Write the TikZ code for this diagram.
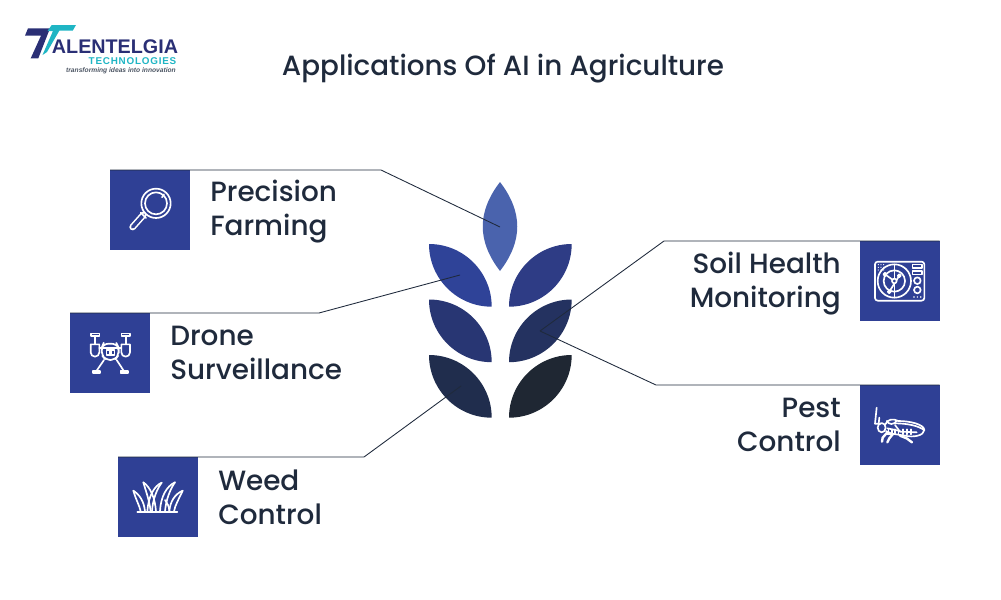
\documentclass[tikz,border=0pt]{standalone}
\usepackage{fontspec}
\setmainfont{Poppins Medium}
\newfontfamily\logofont{Liberation Sans}
\definecolor{ink}{HTML}{1F2A3C}
\definecolor{boxblue}{HTML}{2F4095}
\definecolor{leafA}{HTML}{4A63AD}
\definecolor{leafB}{HTML}{2F4398}
\definecolor{leafC}{HTML}{2E3C85}
\definecolor{leafD}{HTML}{283673}
\definecolor{leafE}{HTML}{243260}
\definecolor{leafF}{HTML}{202D4D}
\definecolor{leafG}{HTML}{1F2733}
\definecolor{logonavy}{HTML}{2A2F75}
\definecolor{logocyan}{HTML}{1FB5C4}
\tikzset{
  iconbox/.style={fill=boxblue,draw=none,minimum width=60pt,minimum height=60pt,inner sep=0pt,outer sep=0pt,anchor=north west},
  label/.style={font=\fontsize{20.9}{25.5}\selectfont,text=ink,inner sep=0pt,anchor=west,align=left},
  labelr/.style={font=\fontsize{20.9}{25.5}\selectfont,text=ink,inner sep=0pt,anchor=east,align=right},
  conn/.style={draw=ink,line width=0.65pt},
  ic/.style={draw=white,line width=1.25pt,line cap=round,line join=round},
  icf/.style={x=0.25pt,y=-0.25pt},
}
\newcommand{\leftleaf}[3]{\fill[#3] (#1,#2) .. controls (#1+34.6,#2) and (#1+62.7,#2+28.1) .. (#1+62.7,#2+62.7) .. controls (#1+28.1,#2+62.7) and (#1,#2+34.6) .. (#1,#2) -- cycle;}
\newcommand{\rightleaf}[3]{\fill[#3] (#1,#2) .. controls (#1-34.6,#2) and (#1-62.7,#2+28.1) .. (#1-62.7,#2+62.7) .. controls (#1-28.1,#2+62.7) and (#1,#2+34.6) .. (#1,#2) -- cycle;}
\begin{document}
\begin{tikzpicture}[x=0.75pt,y=-0.75pt]
\useasboundingbox (0,0) rectangle (1001,600);
% leaves
\fill[leafA] (500,182) .. controls (477,212) and (477,241) .. (500,271) .. controls (523,241) and (523,212) .. (500,182) -- cycle;
\leftleaf{429}{244}{leafB}
\rightleaf{571.7}{244}{leafC}
\leftleaf{429}{299.5}{leafD}
\rightleaf{571.7}{299.5}{leafE}
\leftleaf{429}{355}{leafF}
\rightleaf{571.7}{355}{leafG}
% boxes
\node[iconbox] (precision) at (110,170) {};
\node[iconbox] (drone) at (70,313) {};
\node[iconbox] (weed) at (118,457) {};
\node[iconbox] (soil) at (859.5,241) {};
\node[iconbox] (pest) at (859.5,385) {};
% labels
\node[label] (tprecision) at (210,211.5) {Precision\\Farming};
\node[label] (tdrone) at (170,353) {Drone\\Surveillance};
\node[label] (tweed) at (218,497) {Weed\\Control};
\node[labelr] (tsoil) at (841,283.5) {Soil Health\\Monitoring};
\node[labelr] (tpest) at (841,425) {Pest\\Control};
\node[font=\fontsize{20.85}{24}\selectfont,text=ink,inner sep=0pt] (title) at (503,68.5) {Applications Of AI in Agriculture};
% connector points
\coordinate (b1) at (381,170); \coordinate (e1) at (500,227);
\coordinate (b2) at (319,313); \coordinate (e2) at (460,275);
\coordinate (b3) at (364,457); \coordinate (e3) at (461,386);
\coordinate (b4) at (664,241); \coordinate (e4) at (540,331);
\coordinate (b5) at (656,385);
\draw[conn] (precision.north west) -- (b1) -- (e1);
\draw[conn] (drone.north west) -- (b2) -- (e2);
\draw[conn] (weed.north west) -- (b3) -- (e3);
\draw[conn] (soil.north east) -- (b4) -- (e4);
\draw[conn] (pest.north east) -- (b5) -- (e4);
% magnifier
\begin{scope}[shift={(100,160)},icf]
\draw[ic] (168,130) circle (44);
\draw[ic] (168,130) circle (33);
\draw[ic] (186,112) arc (45:20:25);
\draw[ic,line width=5pt] (130,165) -- (98,201);
\draw[boxblue,line width=2.6pt,line cap=round] (130,165) -- (98,201);
\draw[ic] (122,158) -- (138,174);
\end{scope}
% drone
\begin{scope}[shift={(60,305)},icf]
\draw[ic] (92,85) rectangle (118,92);
\draw[ic] (184,85) rectangle (210,92);
\draw[ic] (105,92) -- (105,118); \draw[ic] (197,92) -- (197,118);
\draw[ic] (92,118) -- (118,118) -- (118,142) arc (0:180:13) -- cycle;
\draw[ic] (184,118) -- (210,118) -- (210,142) arc (0:180:13) -- cycle;
\draw[ic] (118,128) -- (184,128);
\draw[ic,rounded corners=4pt] (125,128) -- (130,116) -- (170,116) -- (176,128) -- (176,150) -- (165,165) -- (137,165) -- (125,150) -- cycle;
\draw[ic] (139,135) rectangle (163,150);
\fill[white] (147,137) rectangle (155,148);
\draw[ic] (132,165) -- (110,197); \draw[ic] (170,165) -- (191,197);
\draw[ic] (98,197) rectangle (120,203);
\draw[ic] (181,197) rectangle (203,203);
\end{scope}
% weed
\begin{scope}[shift={(110,450)},icf]
\draw[ic] (82,185) -- (202,185);
\draw[ic] (70,122) .. controls (90,135) and (102,155) .. (105,184);
\draw[ic] (70,122) .. controls (78,150) and (88,165) .. (92,184);
\draw[ic] (100,97) .. controls (122,112) and (135,145) .. (138,184);
\draw[ic] (100,97) .. controls (108,125) and (118,150) .. (122,184);
\draw[ic] (155,98) .. controls (132,108) and (115,140) .. (112,184);
\draw[ic] (155,98) .. controls (140,118) and (128,150) .. (126,184);
\draw[ic] (195,97) .. controls (170,108) and (152,140) .. (150,184);
\draw[ic] (195,97) .. controls (180,118) and (168,150) .. (165,184);
\draw[ic] (218,122) .. controls (195,132) and (180,155) .. (178,184);
\draw[ic] (218,122) .. controls (208,145) and (195,165) .. (192,184);
\draw[ic] (165,150) .. controls (172,160) and (178,170) .. (178,184);
\end{scope}
% radar
\begin{scope}[shift={(850,235)},icf]
\draw[ic,rounded corners=2pt] (75,80) rectangle (223,197);
\draw[ic] (133,138) circle (50);
\draw[ic] (133,138) circle (32);
\draw[ic] (133,88) -- (133,188);
\draw[ic] (118,170) -- (148,122);
\draw[ic] (105,118) -- (133,138);
\draw[ic,fill=boxblue] (133,138) circle (7);
\draw[ic,fill=boxblue] (105,118) circle (4.5);
\draw[ic,fill=boxblue] (148,122) circle (4.5);
\draw[ic,fill=boxblue] (118,170) circle (4.5);
\draw[ic] (187,88) rectangle (215,98);
\draw[ic] (187,108) rectangle (215,118);
\draw[ic] (202,137) circle (10);
\draw[ic] (202,165) circle (10);
\foreach \x in {192,202,212} \fill[white] (\x,186) circle (2.5);
\foreach \x in {85,93,101} \foreach \y in {89,97,105} \fill[white] (\x,\y) circle (1.8);
\end{scope}
% bug
\begin{scope}[shift={(850,375)},icf]
\draw[ic] (80,98) -- (75,146) -- (92,146);
\draw[ic] (88,128) -- (86,146);
\draw[ic] (95,158) ellipse (12 and 14);
\draw[ic] (106,148) .. controls (112,132) and (130,130) .. (145,138) .. controls (180,138) and (222,148) .. (223,165) .. controls (222,182) and (190,188) .. (165,182) -- (125,176) -- (108,168);
\draw[ic] (110,138) .. controls (118,150) and (130,150) .. (140,138);
\draw[ic] (135,145) .. controls (170,145) and (205,152) .. (222,165);
\draw[ic] (135,150) -- (150,170) -- (200,172);
\draw[ic] (112,160) -- (150,168);
\foreach \x in {115,125,135,145,158,170,182} \draw[ic] (\x,163) -- (\x,178);
\draw[ic,line width=1.8pt] (112,172) -- (98,188) -- (96,200);
\draw[ic,line width=1.8pt] (128,178) -- (118,190) -- (112,202);
\draw[ic,line width=1.8pt] (150,182) -- (170,190) -- (186,202);
\draw[ic] (112,176) -- (124,176);
\end{scope}
% logo
\fill[logonavy] (28,28.3) -- (50,28.3) -- (38.3,58.3) -- (30.7,58.3) -- (41,35.7) -- (25,35.7) -- cycle;
\fill[logocyan] (51.7,25) -- (76,25) -- (72.7,30.7) -- (59.3,30.7) -- (47,52) -- (42.5,55) -- (53,31) -- (47.5,31) -- cycle;
\node[font=\logofont\bfseries\fontsize{14.8}{16}\selectfont,text=logonavy,inner sep=0pt,anchor=center] (logoname) at (115,47) {ALENTELGIA};
\node[font=\logofont\bfseries\fontsize{7.4}{8}\selectfont,text=logocyan,inner sep=0pt] (logotech) at (132.5,61.5) {\addfontfeature{LetterSpace=8}TECHNOLOGIES};
\node[font=\logofont\bfseries\itshape\fontsize{5}{6}\selectfont,text=ink!80,inner sep=0pt] (logotag) at (121,71) {transforming ideas into innovation};
\end{tikzpicture}
\end{document}
